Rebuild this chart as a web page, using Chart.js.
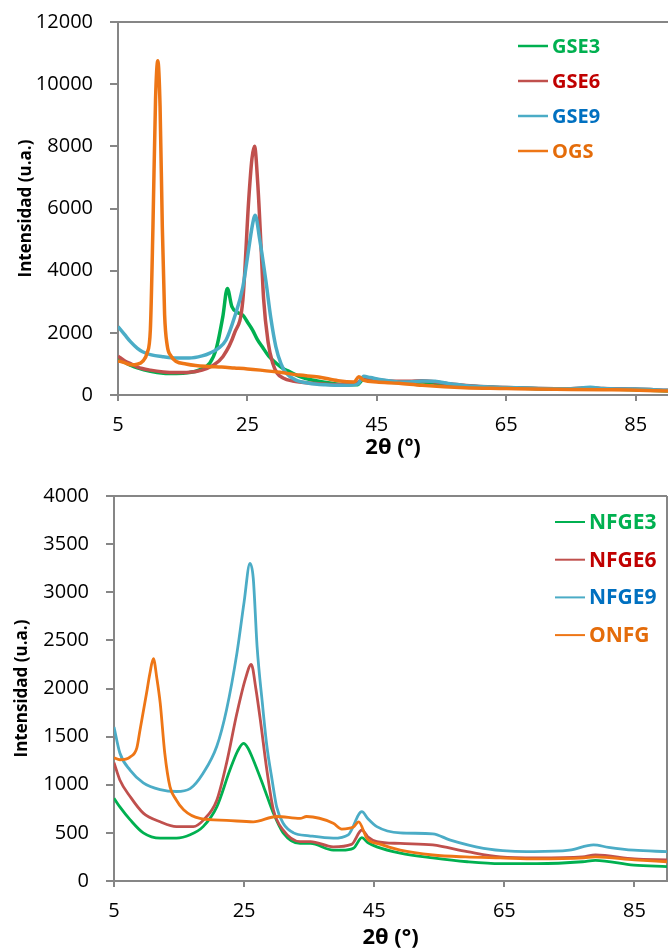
<!DOCTYPE html>
<html lang="es">
<head>
<meta charset="UTF-8">
<title>Difractogramas GS / NFG</title>
<script src="https://cdn.jsdelivr.net/npm/chart.js"></script>
<style>
  html, body { margin: 0; padding: 0; background: #fff; }
  .chart-box { position: relative; width: 668px; }
  #top-box { height: 475px; }
  #bottom-box { height: 476px; }
</style>
</head>
<body>
<div class="chart-box" id="top-box"><canvas id="chartGS"></canvas></div>
<div class="chart-box" id="bottom-box"><canvas id="chartNFG"></canvas></div>

<script>
// ---- eje x comun ----
const xTicks = [5, 25, 45, 65, 85];

// ---- grafico superior (GS) ----
const gsLabels = ['GSE3', 'GSE6', 'GSE9', 'OGS'];

const gse3X = [5, 6, 7, 8, 10, 12, 14, 16, 17.5, 19.2, 20.2, 21.2, 21.9, 22.6, 23.5, 24.3, 25, 25.8, 26.5, 27.3, 28.3, 29.4, 30.5, 31.5, 33, 35, 38, 40, 42, 43, 44, 46, 50, 52, 54, 56, 60, 65, 70, 75, 78, 80, 85, 90];
const gse3Y = [1200, 1050, 950, 870, 760, 700, 690, 720, 800, 1030, 1500, 2520, 3430, 2840, 2650, 2570, 2350, 2090, 1800, 1550, 1250, 1030, 850, 750, 600, 480, 380, 330, 330, 520, 480, 430, 400, 420, 380, 330, 270, 230, 200, 190, 210, 200, 170, 130];

const gse6X = [5, 6, 7, 8, 10, 12, 14, 16, 18, 19.5, 21.2, 23, 24.3, 25.2, 25.7, 26.1, 26.6, 27.1, 27.5, 28.2, 28.9, 29.6, 30.5, 32, 35, 40, 42, 43, 44, 46, 50, 52, 54, 56, 60, 65, 70, 75, 78, 80, 85, 90];
const gse6Y = [1250, 1100, 1000, 900, 800, 740, 720, 730, 800, 930, 1230, 1990, 3060, 6270, 7600, 8000, 6800, 4800, 3100, 1700, 1030, 700, 550, 450, 380, 330, 380, 560, 530, 470, 440, 460, 420, 360, 290, 240, 210, 200, 230, 210, 190, 150];

const gse9X = [5, 6, 7, 8, 8.8, 10, 12, 14, 16, 18, 19.2, 20.5, 21.7, 23, 24.3, 25.2, 25.8, 26.2, 26.9, 27.9, 28.6, 29.4, 30.2, 31, 32.5, 34.5, 37, 40, 42, 43, 44, 46, 48, 50, 52, 54, 56, 58, 60, 65, 70, 75, 78, 80, 85, 90];
const gse9Y = [2200, 1950, 1700, 1500, 1390, 1300, 1230, 1190, 1190, 1260, 1350, 1500, 1770, 2500, 3480, 4700, 5500, 5780, 5000, 3600, 2500, 1550, 1000, 700, 480, 380, 330, 310, 350, 600, 560, 480, 430, 420, 450, 440, 370, 320, 280, 240, 210, 200, 250, 210, 190, 150];

const ogsX = [5, 6, 7, 8, 8.8, 9.5, 10, 10.4, 10.8, 11.15, 11.5, 11.85, 12.2, 12.6, 13.2, 14, 15.5, 17, 19, 21, 23, 25, 27, 30, 33, 36, 39, 41.5, 42.2, 43, 45, 48.4, 52, 58.6, 65, 68.8, 75, 80, 84.2, 90];
const ogsY = [1100, 1040, 970, 990, 1080, 1350, 2100, 5400, 9500, 10750, 9300, 5400, 2600, 1600, 1250, 1080, 1000, 950, 920, 900, 870, 840, 800, 730, 640, 580, 460, 420, 590, 470, 420, 375, 310, 235, 210, 190, 180, 170, 160, 130];

// ---- grafico inferior (NFG) ----
const nfgLabels = ['NFGE3', 'NFGE6', 'NFGE9', 'ONFG'];

const nfge3X = [5, 5.9, 7.5, 9.5, 12.1, 14.6, 16.7, 18.7, 20.8, 22.8, 24, 24.9, 25.6, 26.4, 28, 29.5, 31, 33.6, 35.2, 38.7, 40, 41.8, 43.1, 44, 45.4, 49, 54, 59.3, 64.4, 70, 77, 79, 84.9, 90];
const nfge3Y = [860, 770, 635, 500, 445, 445, 480, 565, 770, 1150, 1350, 1430, 1380, 1260, 980, 705, 500, 390, 390, 320, 320, 340, 450, 400, 355, 290, 240, 200, 180, 180, 200, 215, 165, 150];

const nfge6X = [5, 5.9, 7.5, 9.5, 12.1, 14.6, 17.2, 18.7, 20.8, 22.3, 23.9, 25.2, 26.1, 26.8, 27.5, 28.5, 29.5, 31, 33.6, 35.2, 38.7, 41.5, 43.1, 44, 45.4, 49, 54, 59.3, 64.4, 70, 77, 79, 85, 90];
const nfge6Y = [1230, 1050, 875, 705, 615, 565, 565, 630, 840, 1225, 1745, 2100, 2250, 2000, 1670, 1150, 740, 530, 410, 410, 355, 380, 530, 460, 410, 390, 375, 305, 250, 240, 250, 270, 230, 220];

const nfge9X = [5, 5.9, 7.5, 9.5, 12.1, 14.6, 16.7, 18.7, 20.8, 22.3, 23.9, 25, 25.9, 26.4, 27, 27.8, 28.5, 29.3, 30, 31, 32.6, 35, 38.7, 41, 43.1, 44, 45.4, 49, 54, 56.7, 61.8, 66, 69.5, 75, 78.7, 81, 84.9, 90];
const nfge9Y = [1600, 1330, 1150, 1020, 950, 930, 960, 1120, 1400, 1780, 2370, 2900, 3300, 3150, 2430, 1850, 1400, 1050, 770, 600, 500, 470, 445, 480, 720, 650, 565, 500, 490, 425, 340, 310, 305, 320, 375, 350, 320, 305];

const onfgX = [5, 5.9, 7.5, 8.5, 9, 10, 10.5, 11.05, 11.6, 12.1, 12.8, 13.6, 14.5, 15.7, 18.2, 22.3, 26.4, 30, 33.6, 34.6, 38.7, 40, 41.8, 42.6, 43.9, 46, 49, 54, 59, 64.4, 70, 77.2, 79, 85, 90];
const onfgY = [1280, 1260, 1290, 1380, 1570, 1950, 2150, 2310, 2100, 1850, 1330, 980, 850, 740, 650, 630, 615, 670, 650, 670, 600, 540, 560, 615, 440, 380, 320, 270, 250, 240, 230, 240, 250, 220, 200];

// colores
const lineColors = ['#00B050', '#C0504D', '#4BACC6', '#EE7616'];
const textColors = ['#00B050', '#C00000', '#0070C0', '#E46C0A'];
const axisGray = '#868686';

Chart.defaults.font.family = '"Open Sans", sans-serif';
Chart.defaults.font.size = 20;
Chart.defaults.color = '#000';

function pts(xs, ys) {
  return xs.map((x, i) => ({ x: x, y: ys[i] }));
}

// marco superior / derecho del area de trazado
const framePlugin = {
  id: 'frame',
  beforeDatasetsDraw(chart, args, opts) {
    const { ctx, chartArea: a } = chart;
    ctx.save();
    ctx.strokeStyle = axisGray;
    ctx.lineWidth = 2;
    ctx.beginPath();
    ctx.moveTo(a.left, a.top);
    ctx.lineTo(a.right, a.top);
    if (opts.right) {
      ctx.moveTo(a.right, a.top);
      ctx.lineTo(a.right, a.bottom);
    }
    ctx.stroke();
    ctx.restore();
  }
};

// leyenda dentro del grafico, texto coloreado
const inlineLegend = {
  id: 'inlineLegend',
  afterDraw(chart, args, opts) {
    const ctx = chart.ctx;
    ctx.save();
    ctx.font = 'bold ' + opts.fontSize + 'px "Open Sans", sans-serif';
    ctx.textBaseline = 'middle';
    ctx.textAlign = 'left';
    chart.data.datasets.forEach((ds, i) => {
      const y = opts.top + i * opts.gap;
      ctx.strokeStyle = ds.borderColor;
      ctx.lineWidth = opts.lineWidth;
      ctx.beginPath();
      ctx.moveTo(opts.left, y);
      ctx.lineTo(opts.left + 30, y);
      ctx.stroke();
      ctx.fillStyle = ds.textColor;
      ctx.fillText(ds.label, opts.left + 34, y + 1);
    });
    ctx.restore();
  }
};

function makeChart(id, cfg) {
  const datasets = cfg.series.map((s, i) => ({
    label: cfg.labels[i],
    data: pts(s[0], s[1]),
    borderColor: lineColors[i],
    textColor: textColors[i],
    borderWidth: cfg.lineWidth,
    pointRadius: 0,
    fill: false,
    cubicInterpolationMode: 'monotone',
    order: cfg.series.length - i
  }));

  return new Chart(document.getElementById(id), {
    type: 'line',
    data: { datasets: datasets },
    plugins: [framePlugin, inlineLegend],
    options: {
      responsive: true,
      maintainAspectRatio: false,
      animation: false,
      layout: { padding: { top: cfg.padTop, right: cfg.padRight, left: 0, bottom: 0 } },
      plugins: {
        legend: { display: false },
        tooltip: { enabled: false },
        frame: { right: cfg.rightBorder },
        inlineLegend: cfg.legend
      },
      scales: {
        x: {
          type: 'linear',
          min: 5,
          max: 90,
          afterBuildTicks: axis => { axis.ticks = xTicks.map(v => ({ value: v })); },
          afterFit: s => {
            s.height = cfg.xHeight;
            s.paddingLeft = 0;
            s.paddingRight = 0;
          },
          ticks: { padding: 12, font: { size: 20 }, callback: v => String(v) },
          grid: { drawOnChartArea: false, drawTicks: true, tickLength: 6, color: axisGray, lineWidth: 2 },
          border: { color: axisGray, width: 2 },
          title: {
            display: true,
            text: cfg.xTitle,
            font: { size: 22, weight: 'bold' },
            padding: { top: 0, bottom: cfg.xTitlePad }
          }
        },
        y: {
          min: 0,
          max: cfg.yMax,
          afterFit: s => {
            s.width = cfg.yWidth;
            s.paddingTop = 0;
            s.paddingBottom = 0;
          },
          ticks: { stepSize: cfg.yStep, padding: 17, font: { size: 20 }, callback: v => String(v) },
          grid: { drawOnChartArea: false, drawTicks: true, tickLength: 8, color: axisGray, lineWidth: 2 },
          border: { color: axisGray, width: 2 },
          title: {
            display: true,
            text: 'Intensidad (u.a.)',
            font: { size: 17, weight: 'bold' },
            padding: { top: cfg.yTitlePad, bottom: 0 }
          }
        }
      }
    }
  });
}

makeChart('chartGS', {
  labels: gsLabels,
  series: [[gse3X, gse3Y], [gse6X, gse6Y], [gse9X, gse9Y], [ogsX, ogsY]],
  lineWidth: 3.5,
  yMax: 12000,
  yStep: 2000,
  padTop: 22,
  padRight: 0,
  xHeight: 80,
  yWidth: 118,
  xTitle: '2θ (º)',
  xTitlePad: 14,
  yTitlePad: 16,
  rightBorder: false,
  legend: { left: 518, top: 46, gap: 35, lineWidth: 2.5, fontSize: 20 }
});

makeChart('chartNFG', {
  labels: nfgLabels,
  series: [[nfge3X, nfge3Y], [nfge6X, nfge6Y], [nfge9X, nfge9Y], [onfgX, onfgY]],
  lineWidth: 2.8,
  yMax: 4000,
  yStep: 500,
  padTop: 21,
  padRight: 1,
  xHeight: 70,
  yWidth: 114,
  xTitle: '2θ (°)',
  xTitlePad: 0,
  yTitlePad: 12,
  rightBorder: true,
  legend: { left: 555, top: 47, gap: 37.7, lineWidth: 2, fontSize: 21 }
});
</script>
</body>
</html>
